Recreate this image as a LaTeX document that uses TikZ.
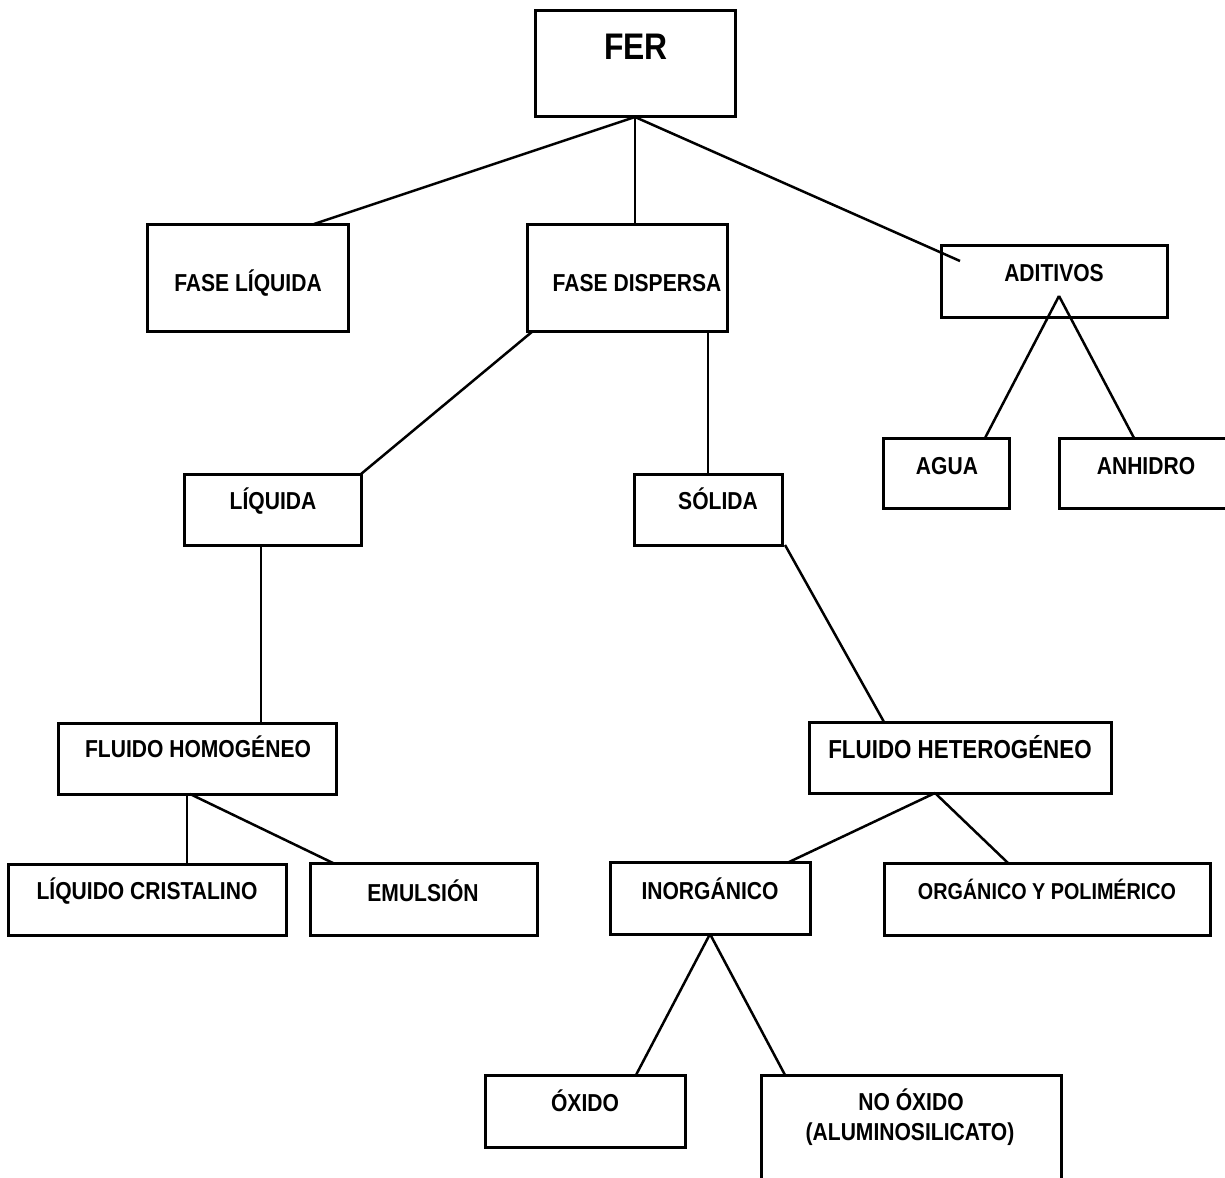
\documentclass[tikz,border=0pt]{standalone}
\usepackage{fontspec}
\newfontfamily\labfont{Liberation Sans}[FakeStretch=0.86]
\usetikzlibrary{calc}
\begin{document}
\begin{tikzpicture}[x=1pt,y=-1pt,
  box/.style={draw, line width=3pt, rectangle, inner sep=0pt, outer sep=0pt, anchor=north west},
  lbl/.style={font=\labfont\bfseries\fontsize{24.5}{28}\selectfont, anchor=base, inner sep=0pt},
  conn/.style={line width=2.5pt}]
\fill[white] (0,0) rectangle (1225,1177);
\clip (0,0) rectangle (1225,1177);
% boxes
\node[box, minimum width=200pt, minimum height=106pt] (fer) at (535,11) {};
\node[box, minimum width=201pt, minimum height=107pt] (faseliq) at (147,224) {};
\node[box, minimum width=200pt, minimum height=107pt] (fasedis) at (527,224) {};
\node[box, minimum width=226pt, minimum height=72pt] (adit) at (941,245) {};
\node[box, minimum width=126pt, minimum height=70pt] (agua) at (883,438) {};
\node[box, minimum width=180pt, minimum height=70pt] (anh) at (1059,438) {};
\node[box, minimum width=177pt, minimum height=71pt] (liq) at (184,474) {};
\node[box, minimum width=148pt, minimum height=71pt] (sol) at (634,474) {};
\node[box, minimum width=278pt, minimum height=71pt] (fhom) at (58,723) {};
\node[box, minimum width=302pt, minimum height=71pt] (fhet) at (809,722) {};
\node[box, minimum width=278pt, minimum height=71pt] (lcris) at (8,864) {};
\node[box, minimum width=227pt, minimum height=72pt] (emul) at (310,863) {};
\node[box, minimum width=200pt, minimum height=72pt] (inorg) at (610,862) {};
\node[box, minimum width=326pt, minimum height=72pt] (org) at (884,863) {};
\node[box, minimum width=200pt, minimum height=72pt] (oxido) at (485,1075) {};
\node[box, minimum width=300pt, minimum height=140pt] (noox) at (761,1075) {};
% labels
\node[lbl, font=\labfont\bfseries\fontsize{37}{40}\selectfont] (tfer) at (636,60) {FER};
\node[lbl] (tfaseliq) at (248,291) {FASE LÍQUIDA};
\node[lbl] (tfasedis) at (637,291) {FASE DISPERSA};
\node[lbl] (tadit) at (1054,281.5) {ADITIVOS};
\node[lbl] (tagua) at (947,474) {AGUA};
\node[lbl] (tanh) at (1146,474) {ANHIDRO};
\node[lbl] (tliq) at (273,509) {LÍQUIDA};
\node[lbl] (tsol) at (718,509) {SÓLIDA};
\node[lbl] (tfhom) at (198,757) {FLUIDO HOMOGÉNEO};
\node[lbl, font=\labfont\bfseries\fontsize{26}{30}\selectfont] (tfhet) at (960,758) {FLUIDO HETEROGÉNEO};
\node[lbl] (tlcris) at (147,899) {LÍQUIDO CRISTALINO};
\node[lbl] (temul) at (423,901) {EMULSIÓN};
\node[lbl] (tinorg) at (710,899) {INORGÁNICO};
\node[lbl, font=\labfont\bfseries\fontsize{23}{27}\selectfont] (torg) at (1047,899) {ORGÁNICO Y POLIMÉRICO};
\node[lbl] (toxido) at (585,1111) {ÓXIDO};
\node[lbl] (tnoox) at (911,1110) {NO ÓXIDO};
\node[lbl] (talum) at (910,1140) {(ALUMINOSILICATO)};
% connector points
\coordinate (aditend) at ([xshift=19pt,yshift=-16pt]adit.north west);
\coordinate (apex) at ([xshift=118pt,yshift=-51pt]adit.north west);
\coordinate (lq) at ([xshift=-11.5pt]liq.south);
\coordinate (fh) at ([xshift=129pt]fhom.south west);
\coordinate (ft) at ([xshift=126pt]fhet.south west);
% connectors
\draw[conn] (fer.south) -- ([xshift=66.5pt]faseliq.north);
\draw[conn] (fer.south) -- (fer.south |- fasedis.north);
\draw[conn] (fer.south) -- (aditend);
\draw[conn] ([xshift=6pt]fasedis.south west) -- (liq.north east);
\draw[conn] (sol.north |- fasedis.south) -- (sol.north);
\draw[conn] (apex) -- ([xshift=102pt]agua.north west);
\draw[conn] (apex) -- ([xshift=75pt]anh.north west);
\draw[conn] (lq) -- (lq |- fhom.north);
\draw[conn] ([xshift=3pt]sol.south east) -- ([xshift=75pt]fhet.north west);
\draw[conn] (fh) -- (fh |- lcris.north);
\draw[conn] ([xshift=3pt]fh) -- ([xshift=23pt]emul.north west);
\draw[conn] (ft) -- ([xshift=179pt]inorg.north west);
\draw[conn] (ft) -- ([xshift=124pt]org.north west);
\draw[conn] (inorg.south) -- ([xshift=151pt]oxido.north west);
\draw[conn] (inorg.south) -- ([xshift=24pt]noox.north west);
\end{tikzpicture}
\end{document}
